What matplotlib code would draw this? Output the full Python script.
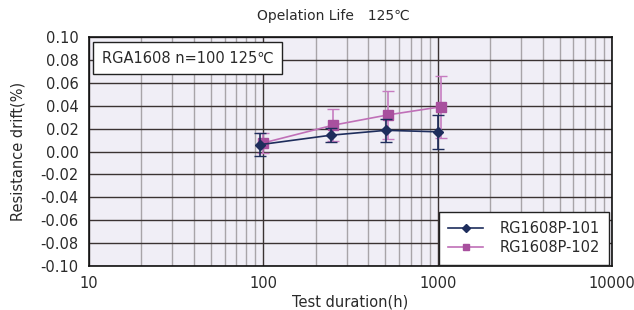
import matplotlib
matplotlib.use("Agg")
import matplotlib.pyplot as plt
from matplotlib.lines import Line2D
from matplotlib.ticker import LogLocator, FixedLocator, NullFormatter

plt.rcParams['font.family'] = ['DejaVu Sans', 'Noto Sans CJK JP']

x101 = [96, 243, 505, 1000]
y101 = [0.0060, 0.0142, 0.0185, 0.0172]
e101 = [0.010, 0.006, 0.010, 0.015]

x102 = [100, 250, 520, 1040]
y102 = [0.0075, 0.0229, 0.0320, 0.0390]
e102 = [0.0085, 0.014, 0.021, 0.027]

yticks = [-0.10, -0.08, -0.06, -0.04, -0.02, 0.00, 0.02, 0.04, 0.06, 0.08, 0.10]
xticks = [10, 100, 1000, 10000]

title = "Opelation Life\u3000125\u2103"
note = "RGA1608 n=100 125\u2103"
labels = ["RG1608P-101", "RG1608P-102"]

W, H = 634, 310
L, R, T, B = 89, 612, 37, 266
fig = plt.figure(figsize=(W/100, H/100), dpi=100)
ax = fig.add_axes([L/W, 1-B/H, (R-L)/W, (B-T)/H])
ax.set_facecolor("#F0EEF6")
ax.set_xscale("log")
ax.set_xlim(10, 10000)
ax.set_ylim(-0.10, 0.10)

ax.xaxis.set_major_locator(FixedLocator(xticks))
ax.set_xticklabels([str(v) for v in xticks])
ax.xaxis.set_minor_locator(LogLocator(base=10, subs=range(2, 10)))
ax.xaxis.set_minor_formatter(NullFormatter())
ax.set_yticks(yticks)
ax.set_yticklabels([f"{v:.2f}" for v in yticks])

ax.grid(True, which="major", color="#3A3232", lw=1.0, zorder=0)
ax.grid(True, which="minor", axis="x", color="#A8A4A8", lw=1.0, zorder=0)
ax.set_axisbelow(True)
ax.tick_params(which="both", length=0, labelsize=10.5, colors="#2A2A2A")
ax.tick_params(axis="y", pad=7.5)
ax.tick_params(axis="x", pad=7)
for s in ax.spines.values():
    s.set_color("#111111")
    s.set_linewidth(1.2)

c1 = "#1E2D5C"
c2 = "#A8509E"
lc2 = "#C070B8"
ax.errorbar(x102, y102, yerr=e102, color=lc2, ecolor="#C67CC0", lw=1.2,
            elinewidth=1.2, capsize=4.5, marker="s", ms=7.5, mfc=c2, mec=c2, zorder=3)
ax.errorbar(x101, y101, yerr=e101, color=c1, ecolor=c1, lw=1.2,
            elinewidth=1.2, capsize=4.5, marker="D", ms=5.5, mfc=c1, mec=c1, zorder=4)

handles = [Line2D([], [], color=c1, lw=1.2, marker="D", ms=4.5, mfc=c1, mec=c1),
           Line2D([], [], color=lc2, lw=1.2, marker="s", ms=5, mfc=c2, mec=c2)]
leg = ax.legend(handles, labels, loc="lower right", fontsize=10.5,
                frameon=True, fancybox=False, edgecolor="#222222", framealpha=1,
                bbox_to_anchor=(0.995, 0.005), borderaxespad=0.0,
                handlelength=2.4, handletextpad=1.1, labelspacing=0.3,
                borderpad=0.65)
leg.get_frame().set_linewidth(1.0)
for t in leg.get_texts():
    t.set_color("#2A2A2A")

ax.text(0.025, 0.94, note, transform=ax.transAxes, fontsize=10.5, va="top", ha="left",
        color="#2A2A2A",
        bbox=dict(boxstyle="square,pad=0.6", fc="white", ec="#222222", lw=1.0))

fig.text(333/W, 1-16/H, title, ha="center", va="center", fontsize=10, color="#2A2A2A")
ax.set_xlabel("Test duration(h)", fontsize=10.5, color="#2A2A2A", labelpad=3)
ax.set_ylabel("Resistance drift(%)", fontsize=10.5, color="#2A2A2A", labelpad=11)

fig.savefig("out.png", dpi=100)
